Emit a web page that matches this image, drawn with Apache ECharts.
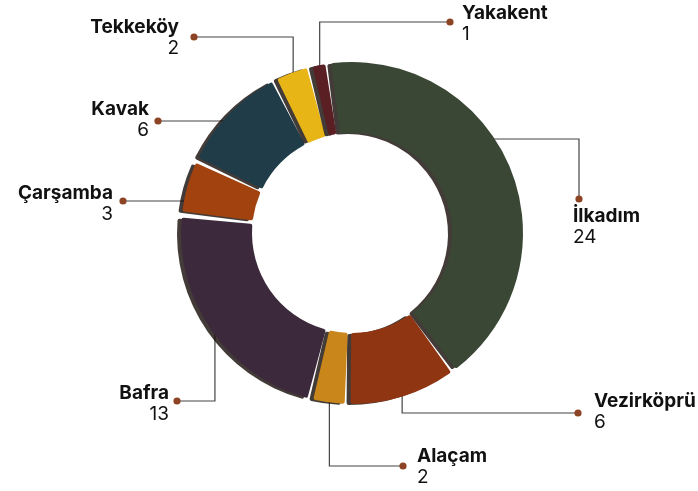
<!DOCTYPE html>
<html>
<head>
<meta charset="utf-8">
<script src="https://cdn.jsdelivr.net/npm/echarts@6/dist/echarts.min.js"></script>
<style>
  html, body { margin: 0; padding: 0; background: #ffffff; }
  #chart { width: 698px; height: 491px; }
</style>
</head>
<body>
<div id="chart"></div>
<script>
// Districts and their counts
const districts = ['İlkadım', 'Vezirköprü', 'Alaçam', 'Bafra', 'Çarşamba', 'Kavak', 'Tekkeköy', 'Yakakent'];
const counts = [24, 6, 2, 13, 3, 6, 2, 1];
const sliceColors = ['#3a4735', '#8f3512', '#c9861a', '#3c293b', '#a1420f', '#1f3c48', '#e8b517', '#591f22'];

// Ring geometry
const CENTER = [352, 233];
const R_IN = 100;
const R_OUT = 171;
const FONT = 'Inter, "Noto Sans", sans-serif';

// Callout layout: leader-line routing, end dot and text anchor per district
const callouts = [
  { route: 'hv', lineY: 139, dot: [579, 199], text: [573, 206], align: 'left',  va: 'top' },
  { route: 'vh', dot: [578, 413], text: [594, 412], align: 'left',  va: 'middle' },
  { route: 'vh', dot: [403, 466], text: [417, 467], align: 'left',  va: 'middle' },
  { route: 'vh', dot: [177, 401], text: [169, 404], align: 'right', va: 'middle' },
  { route: 'h',  lineY: 201, dot: [123, 201], text: [113, 204], align: 'right', va: 'middle' },
  { route: 'h',  lineY: 121, dot: [158, 121], text: [149, 120], align: 'right', va: 'middle' },
  { route: 'vh', dot: [194, 37],  text: [179, 38],  align: 'right', va: 'middle' },
  { route: 'vh', dot: [450, 22],  text: [462, 24],  align: 'left',  va: 'middle' }
];

const dotPoints = [];

function anchorFor(params, c) {
  const rr = R_OUT - 4;
  if (c.lineY != null) {
    const side = c.dot[0] < CENTER[0] ? -1 : 1;
    const dy = c.lineY - CENTER[1];
    return [CENTER[0] + side * Math.sqrt(rr * rr - dy * dy), c.lineY];
  }
  const p0 = params.labelLinePoints[0];
  const vx = p0[0] - CENTER[0], vy = p0[1] - CENTER[1];
  const len = Math.sqrt(vx * vx + vy * vy) || 1;
  return [CENTER[0] + vx / len * rr, CENTER[1] + vy / len * rr];
}

const chart = echarts.init(document.getElementById('chart'), null, { renderer: 'canvas' });

const option = {
  animation: false,
  backgroundColor: '#ffffff',
  series: [{
    type: 'pie',
    center: CENTER,
    radius: [R_IN, R_OUT],
    startAngle: 98,
    clockwise: true,
    padAngle: 2,
    avoidLabelOverlap: false,
    data: districts.map((name, i) => ({
      name: name,
      value: counts[i],
      itemStyle: { color: sliceColors[i] }
    })),
    itemStyle: {
      borderRadius: 2,
      shadowColor: 'rgba(20, 10, 6, 0.8)',
      shadowBlur: 0,
      shadowOffsetX: -4,
      shadowOffsetY: 1
    },
    emphasis: { disabled: true },
    label: {
      show: true,
      position: 'outside',
      formatter: '{n|{b}}\n{v|{c}}',
      rich: {
        n: { fontFamily: FONT, fontWeight: 'bold', fontSize: 19, lineHeight: 21, color: '#111111' },
        v: { fontFamily: FONT, fontWeight: 'normal', fontSize: 19, lineHeight: 21, color: '#111111' }
      }
    },
    labelLine: {
      show: true,
      length: 10,
      length2: 10,
      lineStyle: { color: '#444444', width: 1.2 }
    },
    labelLayout: function (params) {
      const c = callouts[params.dataIndex];
      const a = anchorFor(params, c);
      let pts, dot;
      if (c.route === 'h') {
        dot = [c.dot[0], a[1]];
        pts = [a, [(a[0] + dot[0]) / 2, a[1]], dot];
      } else if (c.route === 'hv') {
        dot = c.dot;
        pts = [a, [dot[0], a[1]], dot];
      } else {
        dot = c.dot;
        pts = [a, [a[0], dot[1]], dot];
      }
      dotPoints[params.dataIndex] = dot;
      return {
        x: c.text[0],
        y: c.route === 'h' ? a[1] + (c.text[1] - c.dot[1]) : c.text[1],
        align: c.align,
        verticalAlign: c.va,
        labelLinePoints: pts
      };
    }
  }]
};

chart.setOption(option);

// End-of-leader dots, placed where the label layout put each line end
chart.setOption({
  graphic: dotPoints.map(p => ({
    type: 'circle',
    z: 100,
    shape: { cx: p[0], cy: p[1], r: 3.6 },
    style: { fill: '#8d4424' }
  }))
});
</script>
</body>
</html>
